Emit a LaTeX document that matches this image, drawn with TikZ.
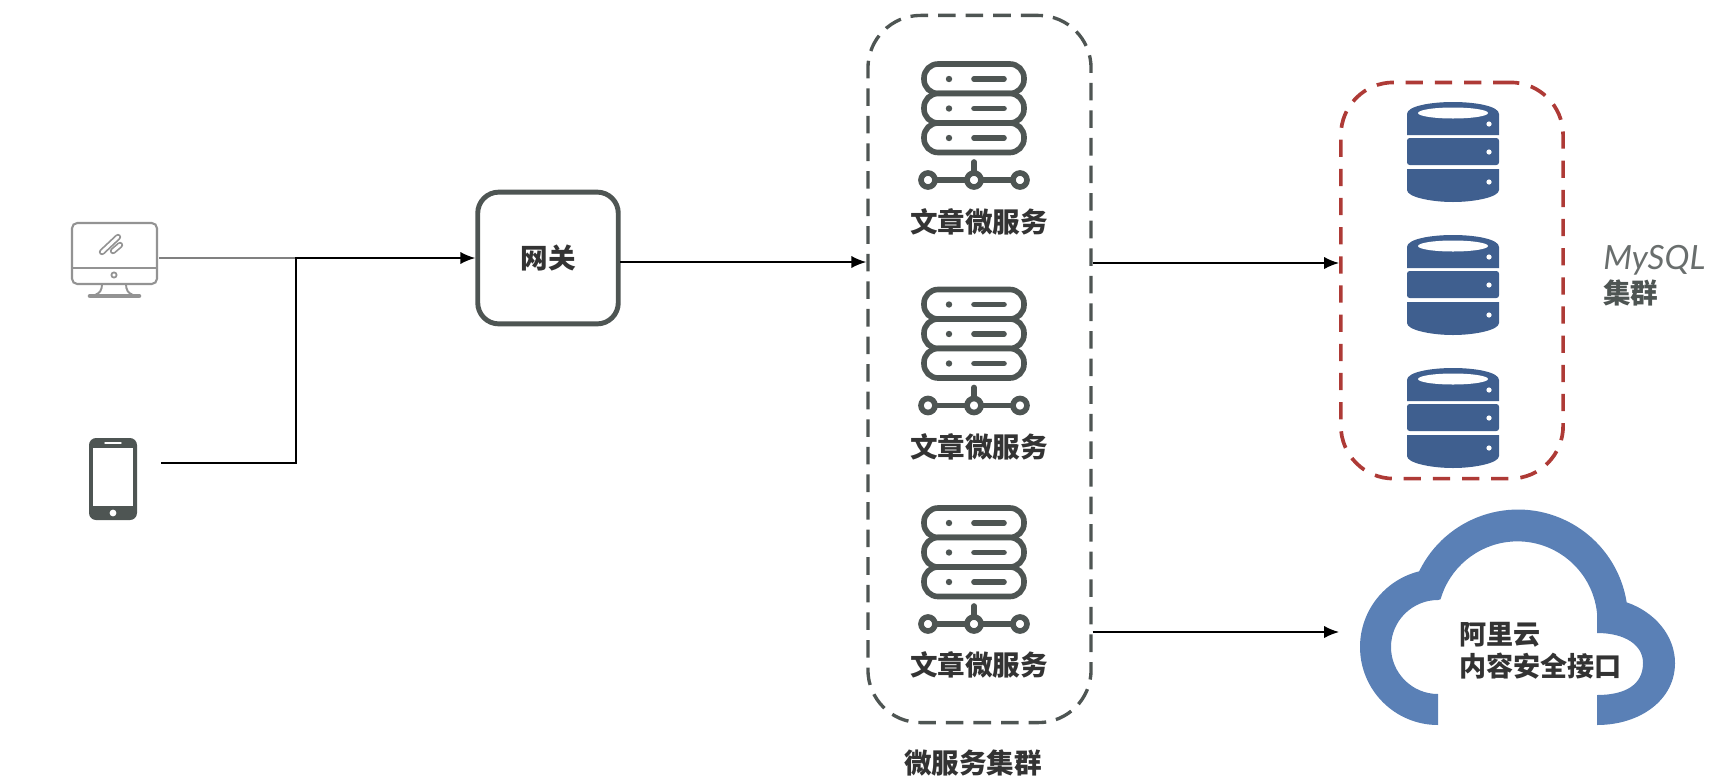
\documentclass[tikz,border=0pt]{standalone}
\usepackage{fontspec}
\usepackage{xcolor}
\usetikzlibrary{arrows.meta,positioning,calc}
\newfontfamily\cjk{Noto Sans CJK SC}
\newfontfamily\latinit{Lato}
\definecolor{icongray}{HTML}{4E5553}
\definecolor{dbblue}{HTML}{3F5F8F}
\definecolor{cloudblue}{HTML}{5A80B6}
\definecolor{redline}{HTML}{AE3A36}
\definecolor{txtgray}{HTML}{333333}
\tikzset{
  wire/.style ={draw=black,line width=0.95pt},
  arr/.style  ={wire,-{Latex[length=8.5pt,width=7pt]}},
  lab/.style  ={font=\cjk\bfseries\fontsize{15.7}{18}\selectfont,text=txtgray,inner sep=0pt},
  gate/.style ={draw=icongray,line width=2.8pt,rounded corners=12pt,minimum width=80pt,minimum height=75pt,inner sep=0pt},
  grp/.style  ={draw=icongray,line width=1.9pt,dash pattern=on 10pt off 5.7pt,rounded corners=30pt,inner sep=0pt},
  srv/.pic={
    \foreach \t in {0,29.5,59}
      \draw[icongray,line width=3.2pt,rounded corners=8pt,fill=white] (-50,\t) rectangle (50,\t+29.5);
    \foreach \t in {15,44.5,74} {
      \fill[icongray] (-25,\t) circle (3.2);
      \draw[icongray,line width=3.2pt,line cap=round] (0,\t) -- (30,\t);
    }
    \draw[icongray,line width=3.2pt] (-46,116) -- (46,116);
    \draw[icongray,line width=3.2pt,line cap=round] (0,98) -- (0,116);
    \foreach \u in {-46,0,46}
      \draw[icongray,line width=3.2pt,fill=white] (\u,116) circle (7);
  },
  dbs/.pic={
    \fill[dbblue] (-46,33) -- (-46,12) .. controls (-46,4) and (-22,0) .. (0,0)
      .. controls (22,0) and (46,4) .. (46,12) -- (46,33) -- cycle;
    \fill[dbblue,rounded corners=1.5pt] (-46,36) rectangle (46,63);
    \fill[dbblue] (-46,67) -- (46,67) -- (46,88) .. controls (46,95) and (22,100) .. (0,100)
      .. controls (-22,100) and (-46,95) .. (-46,88) -- cycle;
    \fill[white] (0,11) ellipse [x radius=35,y radius=5.5];
    \foreach \t in {22,50,80}
      \fill[white] (36,\t) circle (2.6);
  },
}
\begin{document}
\begin{tikzpicture}[x=0.02cm,y=-0.02cm]
  \useasboundingbox (0,0) rectangle (1734,778);

  % terminals
  \draw[gray!85,line width=1.2pt,rounded corners=3pt] (72,223) rectangle (157,284);
  \draw[gray!85,line width=1.2pt] (72,268) -- (157,268);
  \draw[gray!85,line width=1pt] (114,275) circle (2.6);
  \draw[gray!85,line width=1.1pt] (102,284) .. controls (102,290) and (100,293) .. (95,295);
  \draw[gray!85,line width=1.1pt] (126,284) .. controls (126,290) and (128,293) .. (133,295);
  \draw[gray!85,line width=2.6pt,line cap=round] (90,296) -- (139,296);
  \draw[gray!85,line width=1pt,double=white,double distance=1.6pt,line cap=round] (102,252) -- (118,237);
  \draw[gray!85,line width=1pt,double=white,double distance=1.6pt,line cap=round] (113,251) -- (120,245);
  \fill[icongray,rounded corners=4pt] (89,438) rectangle (137,520);
  \fill[white] (93,448) rectangle (133,506);
  \fill[white] (113,513) circle (3.4);
  \draw[white,line width=0.8pt,line cap=round] (105,443) -- (121,443);

  \coordinate (monout) at (159,258);
  \coordinate (phoneout) at (161,463);
  \coordinate (join) at (296,258);

  \node[gate,lab] (gw) at (548,258) {网关};

  \node[grp,minimum width=127pt,minimum height=402.5pt] (ms) at (979.5,369) {};
  \pic at (974,64) {srv};
  \pic at (974,289.5) {srv};
  \pic at (974,508) {srv};
  \node[lab] (ms1) at (979,222) {文章微服务};
  \node[lab] (ms2) at (979,447) {文章微服务};
  \node[lab] (ms3) at (979,665) {文章微服务};
  \node[lab] (msname) at (973,763) {微服务集群};

  \node[draw=redline,line width=2.1pt,dash pattern=on 9.8pt off 6.8pt,rounded corners=30pt,
        minimum width=126.5pt,minimum height=225.5pt,inner sep=0pt] (dbgrp) at (1452,280.5) {};
  \pic at (1453,102) {dbs};
  \pic at (1453,235) {dbs};
  \pic at (1453,368) {dbs};
  \node[font=\latinit\itshape\fontsize{19}{22}\selectfont,text=icongray!85,inner sep=0pt,anchor=west] (mysql) at (1603,260) {MySQL};
  \node[lab,text=icongray,anchor=west] (dbname) at (1603,293) {集群};

  \fill[cloudblue] (1438,725) arc[start angle=90,end angle=256,radius=78]
    arc[start angle=206,end angle=351,radius=110]
    .. controls (1655,612) and (1675,636) .. (1675,663)
    .. controls (1675,700) and (1640,725) .. (1597,725)
    -- (1597,695) .. controls (1625,695) and (1643,685) .. (1643,663)
    .. controls (1643,645) and (1625,633) .. (1597,633)
    -- (1597,613) arc[start angle=354,end angle=196,radius=80]
    -- (1438,600) arc[start angle=270,end angle=90,radius=47] -- cycle;
  \node[lab,align=left,font=\cjk\bfseries\fontsize{15.4}{18}\selectfont,anchor=west] (cloudtxt) at (1459,651) {阿里云\\内容安全接口};

  \coordinate (gwout) at (620,262);
  \coordinate (msin) at (ms.west |- gwout);
  \coordinate (msdb) at (ms.east |- 0,263);
  \coordinate (dbin) at (dbgrp.west |- msdb);
  \coordinate (mscl) at (ms.east |- 0,632);
  \coordinate (clin) at (dbgrp.west |- mscl);

  \draw[draw=gray,line width=1.2pt] (monout) -- (join);
  \draw[arr] (phoneout) -| (join) -- (gw.west);
  \draw[arr] (gwout) -- (msin);
  \draw[arr] (msdb) -- (dbin);
  \draw[arr] (mscl) -- (clin);
\end{tikzpicture}
\end{document}
